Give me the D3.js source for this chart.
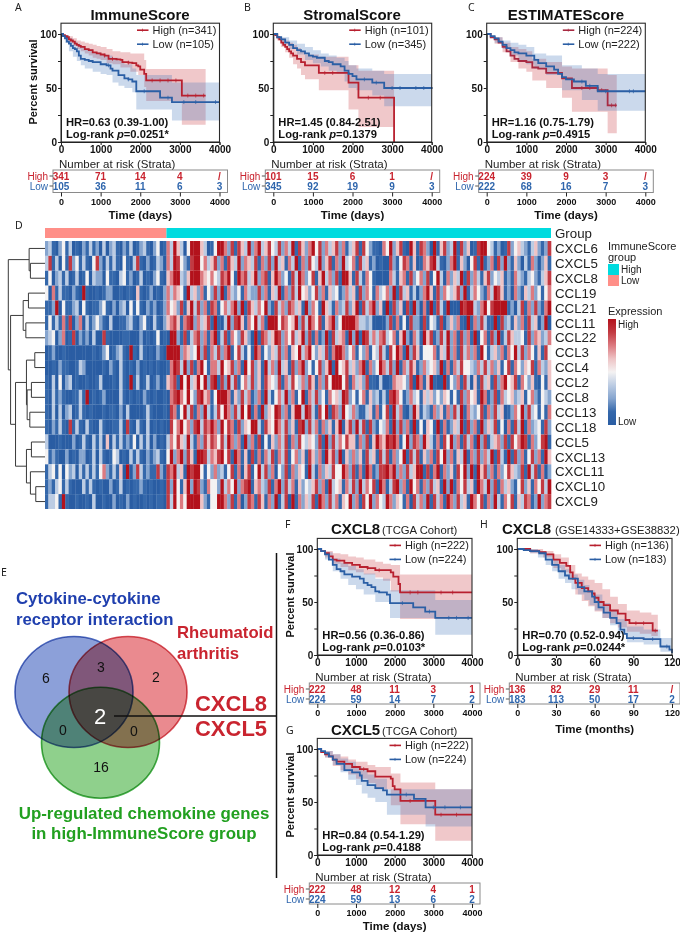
<!DOCTYPE html>
<html><head><meta charset="utf-8">
<script src="https://cdn.jsdelivr.net/npm/d3@7"></script>
<style>html,body{margin:0;background:#fff}svg{display:block;font-family:"Liberation Sans",Arial,sans-serif;isolation:isolate}</style>
</head><body><svg id="c" width="680" height="932"></svg>
<script>
// ---- survival panels (T = time, S = survival %, BT/U/L = CI band, C = censor times, R = at risk)
const aHiT=[0,50,100,150,200,250,300,350,400,450,500,600,700,800,900,1000,1100,1200,1400,1500,1550,1700,1800,1900,1950,2000,2100,2150,3050,3650];
const aHiS=[100,99,98,97,95,94,93,91,90,89,88,86,85,83,82,81,80,77,76.5,76,74,73.5,73,71,70,67,63,57,43,43];
const aHiBT=[0,100,200,300,400,500,600,700,800,900,1000,1150,1300,1500,1750,1950,2100,2150,3050,3650];
const aHiU=[100,99,98,96,94,93,92,91,90,89,88,86,84,83,82,82,76,67.5,67.5,67.5];
const aHiL=[100,96,92,89,86,84,82,80,78,77,76,73,72,69,65,62,51,38,16,16];
const aHiC=[1100,1300,1700,2300,2500,2700,2900,3200,3400,3600];
const aLoT=[0,50,100,150,200,250,300,350,400,450,500,600,700,800,1000,1150,1250,1300,1450,1600,1700,1800,1900,2500,2800,4000];
const aLoS=[100,98,96,93,91,89,87,86,84,80,77,76,75,74,72,71,68,66,62,59,58,56,47,41,37,37];
const aLoBT=[0,100,200,300,400,500,600,800,1000,1150,1300,1450,1600,1800,1900,2800,4000];
const aLoU=[100,99,96,93,91,88,86,83,81,80,78,75,72,68,62,55,54];
const aLoL=[100,92,84,79,75,71,68,65,63,62,55,52,50,46,30,20,20];
const aLoC=[1200,1700,2100,2700,3100,3400,3900];
const bHiT=[0,50,100,150,200,250,300,350,400,450,500,600,700,800,1150,1900,2150,3050];
const bHiS=[100,99,97,95,92,90,88,86,84,82,80,77,74,71,64,55,41,0];
const bHiBT=[0,100,200,300,400,500,600,700,800,1150,1900,2150,3050];
const bHiU=[100,98,96,94,92,90,87,84,81,79,71,66,66];
const bHiL=[100,94,88,83,78,72,68,62,58,48,30,14,14];
const bHiC=[1300,1500,2400,2700];
const bLoT=[0,100,200,300,400,500,600,700,800,900,1000,1100,1300,1400,1500,1700,1800,1900,2000,2100,2500,2800,4000];
const bLoS=[100,97,95,92,90,87,85,84,82,80,79,78,75,74,72,70,66,63,61,58,55,50,49];
const bLoBT=[0,200,400,600,800,1000,1200,1400,1600,1800,1900,2100,2500,2800,4000];
const bLoU=[100,97,94,91,88,85,82,80,78,75,71,68,66,63,63];
const bLoL=[100,92,86,81,76,73,70,66,63,56,50,48,43,33,33];
const bLoC=[2300,2600,3000,3200,3600,3800];
const cHiT=[0,100,200,300,400,500,600,700,800,1000,1150,1300,1500,1900,2150,2800,3050,3280];
const cHiS=[100,97,95,92,88,84,80,77,75,74,69,68,64,59,50,48,34,34];
const cHiBT=[0,200,400,600,800,1000,1150,1500,1900,2150,3050,3280];
const cHiU=[100,97,92,88,86,84,77,74,70,68,62,62];
const cHiL=[100,91,83,74,68,65,57,50,41,28,8,8];
const cHiC=[2400,2600,2900,3150,3250];
const cLoT=[0,100,200,300,400,500,600,700,800,1000,1200,1300,1500,1700,1800,1900,2000,2200,2500,2800,4000];
const cLoS=[100,98,96,93,90,87,85,83,82,80,76,73,70,67,63,60,58,56,52,47,47];
const cLoBT=[0,200,400,600,800,1000,1200,1500,1900,2400,2800,4000];
const cLoU=[100,97,94,92,90,88,82,80,71,68,63,63];
const cLoL=[100,92,86,80,75,72,68,62,48,39,29,29];
const cLoC=[2400,2600,3000,3600,3700];
const fHiT=[0,100,200,300,400,500,700,900,1100,1300,1500,1900,1965,2100,2140,4000];
const fHiS=[100,98,96,93,90,89,87,85,83,82,80,78,74,67,59,59];
const fHiBT=[0,200,400,600,800,1000,1200,1500,1700,1900,2140,4000];
const fHiU=[100,98,96,95,93,92,90,88,86,85,76,76];
const fHiL=[100,92,86,83,80,78,76,73,70,60,34,34];
const fHiC=[1300,1600,2400,2600,3200,3500];
const fLoT=[0,100,200,300,400,500,600,700,900,1100,1200,1300,1400,1500,1600,1800,1880,2480,2790,3050,4000];
const fLoS=[100,98,95,90,85,81,79,76,74,72,68,66,64,60,59,57,49,45,41,35,35];
const fLoBT=[0,200,400,600,800,1000,1200,1500,1880,3050,4000];
const fLoU=[100,97,91,87,84,81,77,72,61,52,52];
const fLoL=[100,90,79,72,66,62,57,50,35,19,19];
const fLoC=[2200,2900,3400,3600,3900];
const hHiT=[0,10,17,22,28,33,38,41,43,45,50,55,58,60,63,67,72,78,84,87,105,109];
const hHiS=[100,98,97,95,90,87,84,78,72,68,63,60,58,54,50,47,42,39,33,30,23,23];
const hHiBT=[0,10,20,28,34,40,45,50,55,60,66,72,78,85,95,104,109];
const hHiU=[100,100,98,95,92,85,77,74,71,68,62,55,48,42,40,38,38];
const hHiL=[100,96,92,82,78,71,57,51,46,41,35,30,26,22,20,18,14];
const hHiC=[92,98,107];
const hLoT=[0,5,10,17,22,27,32,37,40,47,52,58,60,63,67,72,77,80,83,85,98,111,118,120];
const hLoS=[100,99,98,96,90,85,79,75,72,64,60,55,50,45,40,35,30,24,20,16,15,8,5,2];
const hLoBT=[0,10,16,22,27,32,37,42,47,52,56,60,66,72,78,85,98,111,120];
const hLoU=[100,100,98,95,91,85,81,76,71,66,61,57,49,42,34,27,24,16,10];
const hLoL=[100,96,92,85,79,72,68,62,57,52,47,42,35,28,20,12,10,3,0];
const hLoC=[90,105,116];
const gHiT=[0,100,200,300,400,500,700,900,1100,1300,1500,1900,1950,2000,2150,3050,4000];
const gHiS=[100,97,95,93,90,88,86,83,81,79,74,72,65,62,51,38,38];
const gHiBT=[0,200,400,600,800,1000,1300,1500,1900,2150,3050,4000];
const gHiU=[100,98,95,93,90,88,85,83,77,68.5,62,62];
const gHiL=[100,92,84,80,76,72,68,62,47,29,13.5,13.5];
const gHiC=[1200,2400,2800,3200,3600];
const gLoT=[0,100,200,300,400,500,700,900,1100,1150,1300,1500,1700,1800,2500,2800,4000];
const gLoS=[100,98,96,93,90,86,80,78,75,70,66,63,61,57,53,45,45];
const gLoBT=[0,200,400,600,800,1000,1150,1300,1500,1800,2800,4000];
const gLoU=[100,98,95,91,88,84,80,76,72,62,62,62];
const gLoL=[100,92,85,78,71,66,58,54,50,38,27,27];
const gLoC=[2300,3000,3300,3700];
const aRiskHi=["341","71","14","4","/"], aRiskLo=["105","36","11","6","3"];
const bRiskHi=["101","15","6","1","/"], bRiskLo=["345","92","19","9","3"];
const cRiskHi=["224","39","9","3","/"], cRiskLo=["222","68","16","7","3"];
const fRiskHi=["222","48","11","3","1"], fRiskLo=["224","59","14","7","2"];
const hRiskHi=["136","82","29","11","/"], hRiskLo=["183","113","50","17","2"];
const gRiskHi=["222","48","12","4","1"], gRiskLo=["224","59","13","6","2"];
const daysTicks=[0,1000,2000,3000,4000], monthTicks=[0,30,60,90,120];
// ---- heatmap
const genes=["CXCL6","CXCL5","CXCL8","CCL19","CCL21","CCL11","CCL22","CCL3","CCL4","CCL2","CCL8","CCL13","CCL18","CCL5","CXCL13","CXCL11","CXCL10","CXCL9"];
const heatLevels=[
"2310241301 0213120302 3102130123 1024016385 3048885301 4886271753 8268357437 2638175268 4726357261 3571742110 6482571085 1762081572 3817250178 8431201724 5321352127",
"3713041724 1310472031 3104103710 2013206387 4217884635 7261753826 5371627283 5163816274 3825716283 4617351201 0072147615 0165783102 6815204718 1260728215 2031620251",
"1402313013 0140322041 1034120130 1024105688 3258886546 4376841867 3582671586 2417386247 1583627188 5173164100 0063156172 4627148306 2538172631 5724351216 3213421357",
"4061311021 0810010122 0010110510 1201026365 4183526142 7281632416 3227261538 1627384524 7261534126 3517264163 4628173513 0268517264 3572813642 1638751206 2153624146",
"1128041123 0410112410 2023041410 2120126452 7158372617 6146368281 7536482173 6276351826 4185316237 2581736825 0817250718 2060817318 0008788326 8478888120 3716272168",
"1413161702 6031242103 0011231024 1031025675 1678263571 8103827851 6483618884 7645827386 4715682488 8863323000 0271614072 2071431702 5261081627 3118072315 2617350280",
"2340260170 2120300710 0001100020 1014010882 1713672616 8137164275 2081763587 2647358271 6128173561 8281873636 7346158206 3185712738 2617261804 6172813753 3417265236",
"0120010000 0000101240 1231081031 0102108888 2653482716 3726814731 4186142537 2615483684 2537168862 4614261437 3174861827 5144461538 2617362618 4135261648 3726415174",
"0010211001 3200000102 1031010201 0101001687 3827168416 6384572618 4725183628 3517268241 4725818457 3526816248 6372816375 1263452816 1637443263 7362514716 4254716325",
"1030402301 0010013000 1031081301 3012015671 8483584827 8172837146 3725175437 1637436275 1627488847 1635271103 0016554270 8615810081 4261730517 3517268457 1642510415",
"1031210011 3180101200 0031010102 1010010678 6484278561 4888615273 6126183146 3826148163 7241645387 2414615231 3178641263 4153524254 1417264518 6127163452 3514621432",
"1030302301 3101000101 1020300001 3100010761 4837162831 3748627384 8161825487 2615883873 1748176284 3621135161 4718361028 5132162516 2738163247 1627350126 4827341416",
"1021310713 1031003100 1130710310 3010100746 8462783768 6284761725 4883175486 3725178273 6162515815 7283717214 3618272618 1405418161 2538172618 2537140617 3816234172",
"3000100020 1310313050 3131214031 3020103647 5383162757 6473862618 2617041526 3716274354 2718273647 5516271586 5878614827 6285316174 8261736182 7135627174 6871624781",
"4121002010 2201303101 4301031310 2123104826 8275188736 5784718615 0716163716 3714625175 2618572815 2625173517 3716248173 7152617482 6153816272 6381731817 2614726185",
"1341404230 3131314621 3150802731 2117207683 5187884142 6231471605 7148372604 2716254183 1625374486 2716186127 7868262735 8817168162 5174828185 7261624753 2718371602",
"1213413100 0313101002 0130101121 0100107284 1582872164 4283648267 8156327168 2736152435 7261834516 3728364718 6137826184 6162735182 8164735186 3827163521 4725164738",
"1334181001 0010300100 2010201001 0101107384 6488885214 4886271602 7617516281 3708162537 1862736154 8261748264 3862541607 3628173618 6273518647 1628316471 5376128267"
];
const groupNames=["Low","High"], lowColumns=36;
// dendrogram: [distance, child, child], number = row index
const dendroTree=[37,[16,0,[14.7,1,2]],[34.7,[22,[16.7,3,4],[19.3,5,6]],[29.7,[18.7,[10.3,7,8],[18,[13.7,9,10],[15.3,11,12]]],[18.7,[13.7,13,14],[14.7,15,[9.3,16,17]]]]]];
// venn
const vennSets=["blue","red","green"];
const vennCounts=[6,3,2,0,2,0,16];

const RED="#b8202f",BLUE="#2b5fa5",RT="#c9242f",BT="#2f66ad";
const svg=d3.select("#c");
function txt(g,x,y,s,o={}){const t=g.append("text").attr("x",x).attr("y",y).attr("dy","0.35em").text(s)
 .attr("font-size",o.size||11).attr("text-anchor",o.a||"start").attr("fill",o.fill||"#111");
 if(o.bold)t.attr("font-weight","bold"); if(o.fam)t.attr("font-family",o.fam); return t;}

function km(p){
 const x=d3.scaleLinear().domain([0,p.xmax]).range([p.x0,p.x1]);
 const y=d3.scaleLinear().domain([0,100]).range([p.y0,p.y0-p.h]);
 const g=svg.append("g"), top=y(110);
 const step=d3.curveStepAfter;
 const series=[{c:"#c8323c",l:p.hiLine||RED,d:p.hi},{c:"#3f74b8",l:BLUE,d:p.lo}];
 series.forEach(s=>{
  const band=s.d.BT.map((t,i)=>({t,u:s.d.U[i],l:s.d.L[i]}));
  g.append("path").datum(band).attr("fill",s.c).attr("fill-opacity",.27)
   .attr("d",d3.area().curve(step).x(d=>x(d.t)).y0(d=>y(d.l)).y1(d=>y(d.u)));
 });
 series.forEach(s=>{
  const pts=s.d.T.map((t,i)=>({t,s:s.d.S[i]}));
  g.append("path").datum(pts).attr("fill","none").attr("stroke",s.l).attr("stroke-width",1.8)
   .attr("d",d3.line().curve(step).x(d=>x(d.t)).y(d=>y(d.s)));
  const b=d3.bisector(d=>d.t).right;
  g.selectAll(null).data(s.d.C).join("line").attr("stroke",s.l).attr("stroke-width",.7)
   .attr("x1",d=>x(d)).attr("x2",d=>x(d))
   .attr("y1",d=>y(pts[b(pts,d)-1].s)-2).attr("y2",d=>y(pts[b(pts,d)-1].s)+2);
 });
 g.append("rect").attr("x",p.x0).attr("y",top).attr("width",p.x1-p.x0).attr("height",p.y0-top)
  .attr("fill","none").attr("stroke","#2a2a2a").attr("stroke-width",1.1);
 const ax=g.append("g").attr("transform",`translate(0,${p.y0})`)
  .call(d3.axisBottom(x).tickValues(p.ticks).tickSize(3).tickPadding(1).tickFormat(d3.format("d")));
 const ay=g.append("g").attr("transform",`translate(${p.x0},0)`)
  .call(d3.axisLeft(y).tickValues([0,25,50,75,100]).tickSize(3).tickPadding(1).tickFormat(d=>d%50?"":d));
 [ax,ay].forEach(a=>{a.selectAll("text").attr("font-size",10).attr("font-weight","bold").attr("fill","#111").attr("font-family","Liberation Sans");
  a.select(".domain").attr("stroke","#222"); a.selectAll("line").attr("stroke","#222");});
 // legend
 [[p.hiN,p.hiLine||RED,"High",top+7],[p.loN,BLUE,"Low",top+21]].forEach(([n,c,l,yy])=>{
  g.append("line").attr("x1",p.x1-82.5).attr("x2",p.x1-71).attr("y1",yy).attr("y2",yy).attr("stroke",c).attr("stroke-width",1.6);
  g.append("line").attr("x1",p.x1-77).attr("x2",p.x1-77).attr("y1",yy-1.5).attr("y2",yy+1.5).attr("stroke",c).attr("stroke-width",.7);
  txt(g,p.x1-67,yy,`${l} (n=${n})`,{size:11,fill:"#222"});
 });
 // HR
 txt(g,p.x0+5,p.y0-20,p.hr,{size:11.2,bold:true});
 const lr=txt(g,p.x0+5,p.y0-8,"Log-rank ",{size:11.2,bold:true});
 lr.append("tspan").attr("font-style","italic").text("p");
 lr.append("tspan").text(p.pv);
 // title
 if(p.title)txt(g,p.tx,p.ty,p.title,{size:15,bold:true,a:p.sub?"start":"middle"});
 if(p.sub)txt(g,p.tx+(p.subdx||51),p.ty+1,p.sub,{size:11.3,fill:"#222"});
 if(p.ylab)g.append("text").attr("transform",`translate(${p.ylx},${p.y0-60}) rotate(-90)`).attr("text-anchor","middle").attr("dy","0.35em")
   .attr("font-size",11).attr("font-weight","bold").attr("fill","#111").text("Percent survival");
 // risk
 const bt=p.y0+28, bb=bt+(p.boxH||22.5);
 txt(g,p.x0-2,bt-6.5,"Number at risk (Strata)",{size:11.5,fill:"#222"});
 g.append("rect").attr("x",p.x0-8).attr("y",bt).attr("width",p.x1-p.x0+16).attr("height",bb-bt).attr("fill","none").attr("stroke","#8a8a8a").attr("stroke-width",1);
 const r1=bt+6,r2=bt+16;
 [[p.riskHi,r1,RT,"High"],[p.riskLo,r2,BT,"Low"]].forEach(([arr,yy,c,l])=>{
  arr.forEach((v,i)=>txt(g,x(p.ticks[i]),yy,v,{size:10,bold:true,fill:c,a:"middle"}));
  txt(g,p.x0-13,yy,l,{size:10,fill:c,a:"end"});
  g.append("line").attr("x1",p.x0-11.5).attr("x2",p.x0-8).attr("y1",yy).attr("y2",yy).attr("stroke","#555");
 });
 const ax2=g.append("g").attr("transform",`translate(0,${bb})`)
  .call(d3.axisBottom(x).tickValues(p.ticks).tickSize(4).tickPadding(2).tickFormat(d3.format("d")));
 ax2.select(".domain").remove(); ax2.selectAll("line").attr("stroke","#222");
 ax2.selectAll("text").attr("font-size",9).attr("font-weight","bold").attr("fill","#111").attr("font-family","Liberation Sans");
 if(p.timeLab)txt(g,(p.x0+p.x1)/2,bb+p.timeDy,p.timeLab,{size:11.5,bold:true,a:"middle"});
}
const mk=(T,S,BT,U,L,C)=>({T,S,BT,U,L,C});
km({x0:61,x1:219.5,y0:142,h:108,xmax:4000,ticks:daysTicks,hi:mk(aHiT,aHiS,aHiBT,aHiU,aHiL,aHiC),lo:mk(aLoT,aLoS,aLoBT,aLoU,aLoL,aLoC),hiN:341,loN:105,hr:"HR=0.63 (0.39-1.00)",pv:"=0.0251*",title:"ImmuneScore",tx:140,ty:15,ylab:true,ylx:33,riskHi:aRiskHi,riskLo:aRiskLo,timeLab:"Time (days)",timeDy:22});
km({x0:273.3,x1:431.7,y0:142,h:108,xmax:4000,ticks:daysTicks,hi:mk(bHiT,bHiS,bHiBT,bHiU,bHiL,bHiC),lo:mk(bLoT,bLoS,bLoBT,bLoU,bLoL,bLoC),hiN:101,loN:345,hr:"HR=1.45 (0.84-2.51)",pv:"=0.1379",title:"StromalScore",tx:352,ty:15,riskHi:bRiskHi,riskLo:bRiskLo,timeLab:"Time (days)",timeDy:22});
km({x0:486.7,x1:645.3,y0:142,h:108,xmax:4000,ticks:daysTicks,hiLine:"#a82a42",hi:mk(cHiT,cHiS,cHiBT,cHiU,cHiL,cHiC),lo:mk(cLoT,cLoS,cLoBT,cLoU,cLoL,cLoC),hiN:224,loN:222,hr:"HR=1.16 (0.75-1.79)",pv:"=0.4915",title:"ESTIMATEScore",tx:566,ty:15,riskHi:cRiskHi,riskLo:cRiskLo,timeLab:"Time (days)",timeDy:22});
km({x0:317.3,x1:472,y0:655,h:106,xmax:4000,ticks:daysTicks,boxH:21,hi:mk(fHiT,fHiS,fHiBT,fHiU,fHiL,fHiC),lo:mk(fLoT,fLoS,fLoBT,fLoU,fLoL,fLoC),hiN:222,loN:224,hr:"HR=0.56 (0.36-0.86)",pv:"=0.0103*",title:"CXCL8",sub:"(TCGA Cohort)",tx:331,ty:529,ylab:true,ylx:290,riskHi:fRiskHi,riskLo:fRiskLo});
km({x0:517.3,x1:672,y0:655,h:106,xmax:120,ticks:monthTicks,boxH:21,hi:mk(hHiT,hHiS,hHiBT,hHiU,hHiL,hHiC),lo:mk(hLoT,hLoS,hLoBT,hLoU,hLoL,hLoC),hiN:136,loN:183,hr:"HR=0.70 (0.52-0.94)",pv:"=0.0244*",title:"CXCL8",sub:"(GSE14333+GSE38832)",subdx:53,tx:502,ty:529,riskHi:hRiskHi,riskLo:hRiskLo,timeLab:"Time (months)",timeDy:25});
km({x0:317.3,x1:472,y0:855,h:106,xmax:4000,ticks:daysTicks,boxH:21,hi:mk(gHiT,gHiS,gHiBT,gHiU,gHiL,gHiC),lo:mk(gLoT,gLoS,gLoBT,gLoU,gLoL,gLoC),hiN:222,loN:224,hr:"HR=0.84 (0.54-1.29)",pv:"=0.4188",title:"CXCL5",sub:"(TCGA Cohort)",tx:331,ty:730,ylab:true,ylx:290,riskHi:gRiskHi,riskLo:gRiskLo,timeLab:"Time (days)",timeDy:22});

// panel letters
[["A",15,7],["B",244,7],["C",468,7],["D",15,225],["E",1,572],["F",285,524],["H",480,524],["G",286,730]]
 .forEach(([s,x,y])=>txt(svg,x,y,s,{size:10.5,fam:"Noto Sans",fill:"#222"}));

// ---- heatmap
const hg=svg.append("g");
const rows=heatLevels.map(s=>s.replace(/ /g,"").split("").map(Number));
const nCol=rows[0].length;
const hx=d3.scaleLinear().domain([0,nCol]).range([45,551]);
const hy=d3.scaleBand().domain(genes).range([241,509]);
const heatColor=d3.scaleLinear().domain([0,1,2,3,4,5,6,7,8]).range(["#2a5da3","#3568ab","#86a5cf","#bccce3","#f4f2f2","#eec3c5","#dc7a80","#c23a42","#b3121c"]);
rows.forEach((r,i)=>{
 hg.append("g").selectAll("rect").data(r).join("rect")
  .attr("x",(d,j)=>hx(j)).attr("y",hy(genes[i])).attr("width",hx(1)-hx(0)+.3).attr("height",hy.bandwidth())
  .attr("fill",d=>heatColor(d));
});
const groupX=d3.scaleOrdinal().domain(groupNames).range([[0,lowColumns],[lowColumns,nCol]]);
const groupColor=d3.scaleOrdinal().domain(groupNames).range(["#ff8f88","#00dbdf"]);
hg.selectAll(".gr").data(groupNames).join("rect").attr("class","gr")
 .attr("x",d=>hx(groupX(d)[0])).attr("width",d=>hx(groupX(d)[1])-hx(groupX(d)[0])).attr("y",228).attr("height",10).attr("fill",d=>groupColor(d));
genes.forEach(g=>txt(hg,555,hy(g)+hy.bandwidth()/2,g,{size:13.3,fill:"#222"}));
txt(hg,555,233,"Group",{size:13.3,fill:"#222"});
// dendrogram
const dx=d3.scaleLinear().domain([0,37]).range([45,8.3]);
const dg=svg.append("g").attr("fill","none").attr("stroke","#3a3a3a").attr("stroke-width",1);
function dendro(n){
 if(typeof n==="number")return {y:hy(genes[n])+hy.bandwidth()/2,h:0};
 const a=dendro(n[1]),b=dendro(n[2]),X=dx(n[0]);
 dg.append("path").attr("d",d3.line()([[dx(a.h),a.y],[X,a.y],[X,b.y],[dx(b.h),b.y]]));
 return {y:(a.y+b.y)/2,h:n[0]};
}
dendro(dendroTree);
// heatmap legend
txt(hg,608,246,"ImmuneScore",{size:11,fill:"#222"});
txt(hg,608,257,"group",{size:11,fill:"#222"});
[["High",264],["Low",275]].forEach(([g,y])=>{
 hg.append("rect").attr("x",608).attr("y",y).attr("width",11).attr("height",11).attr("fill",groupColor(g));
 txt(hg,621,y+5.5,g,{size:10,fill:"#222"});
});
txt(hg,608,311,"Expression",{size:11,fill:"#222"});
const lgId="grad";
const lg=svg.append("defs").append("linearGradient").attr("id",lgId).attr("x1",0).attr("x2",0).attr("y1",1).attr("y2",0);
d3.range(0,8.01,1).forEach(v=>lg.append("stop").attr("offset",v/8).attr("stop-color",heatColor(v)));
hg.append("rect").attr("x",608).attr("y",319).attr("width",8).attr("height",106).attr("fill",`url(#${lgId})`);
txt(hg,618,324,"High",{size:10,fill:"#222"});
txt(hg,618,421,"Low",{size:10,fill:"#222"});

// ---- venn
const vg=svg.append("g");
const vennColor=d3.scaleOrdinal().domain(vennSets).range(["#8ca0d9","#ea8a8f","#8fd08c"]);
const vennStroke=d3.scaleOrdinal().domain(vennSets).range(["#4f6cc0","#d8505a","#47b04a"]);
const vennX=d3.scaleOrdinal().domain(vennSets).range([74,128,100.5]);
const vennY=d3.scaleOrdinal().domain(vennSets).range([692,692,742.7]);
vg.selectAll("ellipse").data(vennSets).join("ellipse")
 .attr("cx",d=>vennX(d)).attr("cy",d=>vennY(d)).attr("rx",59).attr("ry",55.5)
 .attr("fill",d=>vennColor(d)).style("mix-blend-mode","multiply");
vg.selectAll(".o").data(vennSets).join("ellipse").attr("class","o")
 .attr("cx",d=>vennX(d)).attr("cy",d=>vennY(d)).attr("rx",59).attr("ry",55.5)
 .attr("fill","none").attr("stroke",d=>vennStroke(d)).attr("stroke-width",1.6).style("mix-blend-mode","multiply");
const vennPos=[[46,678],[101,667],[156,677],[63,730],[100,716],[134,731],[101,767]];
vennCounts.forEach((v,i)=>txt(vg,vennPos[i][0],vennPos[i][1],v,{size:i==4?22:14,a:"middle",fill:i==4?"#fff":"#111"}));
const vb="#1f3fae",vr="#c9242f",vgc="#22a020";
txt(vg,16,598,"Cytokine-cytokine",{size:16.8,bold:true,fill:vb});
txt(vg,16,619,"receptor interaction",{size:16.8,bold:true,fill:vb});
txt(vg,177,632,"Rheumatoid",{size:16.7,bold:true,fill:vr});
txt(vg,177,653,"arthritis",{size:16.7,bold:true,fill:vr});
txt(vg,231,703,"CXCL8",{size:22,bold:true,fill:vr,a:"middle"});
txt(vg,231,728,"CXCL5",{size:22,bold:true,fill:vr,a:"middle"});
txt(vg,144,813,"Up-regulated chemokine genes",{size:16.9,bold:true,fill:vgc,a:"middle"});
txt(vg,144,833,"in high-ImmuneScore group",{size:16.9,bold:true,fill:vgc,a:"middle"});
vg.append("path").attr("d","M114,716H277M276.5,553V878").attr("fill","none").attr("stroke","#111").attr("stroke-width",1.5);
</script></body></html>
